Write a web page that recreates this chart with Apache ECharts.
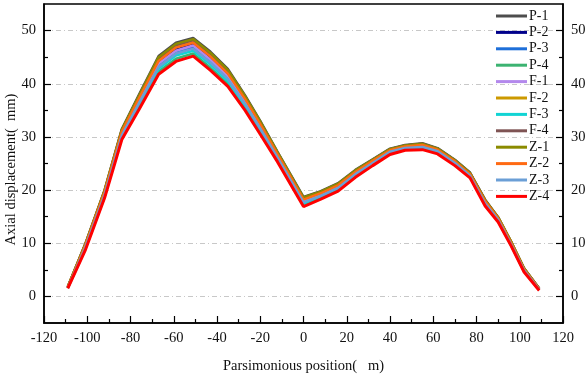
<!DOCTYPE html>
<html>
<head>
<meta charset="utf-8">
<script src="https://cdn.jsdelivr.net/npm/echarts@6/dist/echarts.min.js"></script>
<style>
  html, body { margin: 0; padding: 0; background: #fff; }
  #box { width: 588px; height: 376px; }
</style>
</head>
<body>
<div id="box"></div>
<script>
// positions along the line (m)
var xs = [-109, -101, -92, -84, -76, -67, -59, -51, -43, -35, -27, -20, -12, 0, 8, 16, 24, 32, 40, 47, 55, 62, 70, 77, 84, 90, 96, 102, 109];

var seriesNames = ["P-1", "P-2", "P-3", "P-4", "F-1", "F-2", "F-3", "F-4", "Z-1", "Z-2", "Z-3", "Z-4"];
var seriesColors = ["#4d4d4d", "#00008b", "#1e6fd9", "#3cb371", "#b388ec", "#cc9900", "#11d4d4", "#7f5454", "#8b8b00", "#ff6a13", "#6b9fd6", "#ff0000"];

var P1 = [1.8, 9.8, 20.0, 31.5, 38.0, 45.2, 47.7, 48.6, 46.0, 42.8, 37.8, 33.0, 27.2, 18.7, 19.8, 21.3, 23.8, 25.8, 27.8, 28.5, 28.8, 27.9, 25.7, 23.3, 18.2, 14.9, 10.3, 5.3, 1.5];
var P2 = [1.7, 9.4, 19.5, 30.8, 37.0, 44.0, 46.4, 47.4, 44.7, 41.6, 36.8, 32.1, 26.5, 18.1, 19.3, 20.8, 23.3, 25.4, 27.4, 28.1, 28.4, 27.5, 25.3, 22.9, 17.8, 14.6, 10.0, 5.1, 1.4];
var P3 = [1.7, 9.2, 19.3, 30.5, 36.6, 43.5, 46.0, 46.9, 44.3, 41.2, 36.4, 31.8, 26.3, 17.8, 19.1, 20.6, 23.1, 25.2, 27.3, 28.0, 28.2, 27.4, 25.2, 22.8, 17.6, 14.5, 9.9, 5.0, 1.3];
var P4 = [1.6, 8.8, 18.7, 29.8, 35.6, 42.3, 44.7, 45.7, 43.0, 40.0, 35.4, 30.9, 25.6, 17.2, 18.5, 20.0, 22.6, 24.8, 26.9, 27.7, 27.8, 27.0, 24.8, 22.5, 17.2, 14.1, 9.6, 4.7, 1.2];
var F1 = [1.7, 9.3, 19.4, 30.7, 36.8, 43.8, 46.2, 47.2, 44.5, 41.4, 36.6, 32.0, 26.4, 17.9, 19.2, 20.7, 23.2, 25.3, 27.3, 28.1, 28.3, 27.4, 25.2, 22.9, 17.7, 14.5, 10.0, 5.0, 1.3];
var F2 = [1.8, 9.6, 19.8, 31.2, 37.6, 44.7, 47.1, 48.1, 45.4, 42.3, 37.4, 32.6, 26.9, 18.4, 19.6, 21.1, 23.6, 25.6, 27.6, 28.3, 28.6, 27.7, 25.5, 23.1, 18.0, 14.8, 10.2, 5.2, 1.4];
var F3 = [1.6, 9.0, 19.0, 30.1, 36.0, 42.8, 45.3, 46.2, 43.6, 40.5, 35.8, 31.3, 25.9, 17.4, 18.8, 20.3, 22.8, 25.0, 27.0, 27.8, 28.0, 27.1, 24.9, 22.6, 17.4, 14.3, 9.7, 4.8, 1.2];
var F4 = [1.8, 9.7, 19.8, 31.3, 37.7, 44.8, 47.3, 48.2, 45.6, 42.4, 37.5, 32.7, 27.0, 18.5, 19.6, 21.1, 23.6, 25.7, 27.7, 28.4, 28.7, 27.8, 25.6, 23.2, 18.1, 14.8, 10.2, 5.2, 1.5];
var Z1 = [1.8, 9.7, 19.9, 31.4, 37.8, 45.0, 47.5, 48.4, 45.8, 42.6, 37.6, 32.9, 27.1, 18.6, 19.7, 21.2, 23.7, 25.7, 27.7, 28.4, 28.7, 27.8, 25.6, 23.2, 18.1, 14.9, 10.3, 5.3, 1.5];
var Z2 = [1.7, 9.5, 19.6, 31.0, 37.3, 44.3, 46.8, 47.7, 45.1, 41.9, 37.1, 32.4, 26.7, 18.2, 19.4, 20.9, 23.4, 25.5, 27.5, 28.2, 28.5, 27.6, 25.4, 23.0, 17.9, 14.7, 10.1, 5.1, 1.4];
var Z3 = [1.6, 9.1, 19.1, 30.3, 36.4, 43.2, 45.7, 46.6, 44.0, 40.9, 36.2, 31.6, 26.1, 17.7, 18.9, 20.4, 23.0, 25.1, 27.2, 27.9, 28.1, 27.3, 25.1, 22.7, 17.5, 14.4, 9.8, 4.9, 1.3];
var Z4 = [1.5, 8.6, 18.5, 29.5, 35.2, 41.8, 44.2, 45.2, 42.5, 39.5, 35.0, 30.5, 25.3, 16.9, 18.3, 19.8, 22.4, 24.6, 26.7, 27.5, 27.6, 26.8, 24.6, 22.3, 17.0, 14.0, 9.5, 4.6, 1.1];

var allValues = [P1, P2, P3, P4, F1, F2, F3, F4, Z1, Z2, Z3, Z4];

// tick labels
var yMajor = [0, 10, 20, 30, 40, 50];
var yMinor = [5, 15, 25, 35, 45];

var font = "'Liberation Serif', 'Times New Roman', serif";

function makeSeries() {
  var list = [];
  for (var i = 0; i < seriesNames.length; i++) {
    var pts = xs.map(function (x, k) { return [x, allValues[i][k]]; });
    list.push({
      name: seriesNames[i],
      type: "line",
      data: pts,
      symbol: "none",
      yAxisIndex: 0,
      lineStyle: { width: i == 11 ? 3 : 2.5, color: seriesColors[i] },
      itemStyle: { color: seriesColors[i] },
      z: 2 + i
    });
  }
  return list;
}

var myChart = echarts.init(document.getElementById("box"));
var axisLine = { show: true, onZero: false, lineStyle: { color: "#000", width: 1.5 } };
var labelStyle = { color: "#111", fontFamily: font, fontSize: 14.5 };
var noLine = { show: false, onZero: false };

var option = {
  animation: false,
  backgroundColor: "#fff",
  color: seriesColors,
  grid: { left: 44, right: 25, top: 4, bottom: 53, outerBoundsMode: "none", containLabel: false, show: true, borderColor: "#000", borderWidth: 1.5 },
  legend: {
    orient: "vertical",
    left: 496,
    top: 9,
    padding: 0,
    itemWidth: 31,
    itemHeight: 3,
    itemGap: 2.4,
    icon: "rect",
    data: seriesNames,
    textStyle: { color: "#111", fontFamily: font, fontSize: 14, lineHeight: 14, padding: [0, 0, 0, -3] }
  },
  xAxis: {
    type: "value",
    min: -120,
    max: 120,
    interval: 20,
    name: "Parsimonious position(   m)",
    nameLocation: "middle",
    nameGap: 36,
    nameMoveOverlap: false,
    nameTextStyle: labelStyle,
    axisLine: axisLine,
    axisTick: { show: true, inside: true, length: 7, lineStyle: { color: "#000", width: 1.2 } },
    minorTick: { show: true, splitNumber: 2, length: 4, lineStyle: { color: "#000", width: 1.2 } },
    axisLabel: Object.assign({ margin: 8 }, labelStyle),
    splitLine: { show: false }
  },
  yAxis: [
    {
      type: "value",
      min: -5,
      max: 55,
      interval: 5,
      position: "left",
      name: "Axial displacement(  mm)",
      nameLocation: "middle",
      nameGap: 25,
      nameMoveOverlap: false,
      nameTextStyle: Object.assign({ padding: [0, 12, 0, 0] }, labelStyle),
      axisLine: axisLine,
      axisTick: { show: true, inside: true, length: 7, customValues: yMajor, lineStyle: { color: "#000", width: 1.2 } },
      axisLabel: Object.assign({ customValues: yMajor, margin: 8 }, labelStyle),
      splitLine: { show: true, lineStyle: { color: "#c8c8c8", width: 1, type: [5, 3, 1, 3] } }
    },
    {
      type: "value",
      min: -5,
      max: 55,
      interval: 5,
      position: "left",
      axisLine: noLine,
      axisTick: { show: true, inside: true, length: 4, customValues: yMinor, lineStyle: { color: "#000", width: 1.2 } },
      axisLabel: { show: false },
      splitLine: { show: false }
    },
    {
      type: "value",
      min: -5,
      max: 55,
      interval: 5,
      position: "right",
      axisLine: axisLine,
      axisTick: { show: true, inside: true, length: 7, customValues: yMajor, lineStyle: { color: "#000", width: 1.2 } },
      axisLabel: Object.assign({ customValues: yMajor, margin: 8 }, labelStyle),
      splitLine: { show: false }
    },
    {
      type: "value",
      min: -5,
      max: 55,
      interval: 5,
      position: "right",
      axisLine: noLine,
      axisTick: { show: true, inside: true, length: 4, customValues: yMinor, lineStyle: { color: "#000", width: 1.2 } },
      axisLabel: { show: false },
      splitLine: { show: false }
    }
  ],
  series: makeSeries()
};
myChart.setOption(option);
</script>
</body>
</html>
